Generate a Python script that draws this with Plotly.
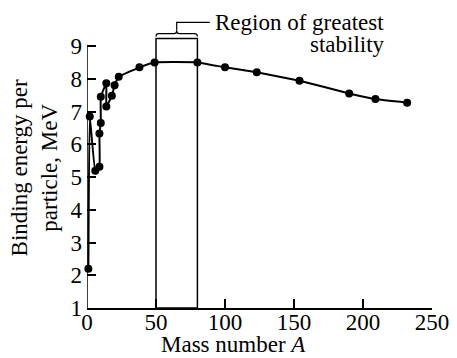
import plotly.graph_objects as go

# Data
mass_number = [1, 2, 6, 9, 9, 10, 10, 14, 14, 18, 20, 23, 38, 49, 80, 100, 123, 154, 190, 209, 232]
binding_energy = [2.2, 6.85, 5.19, 5.31, 6.33, 6.65, 7.45, 7.86, 7.15, 7.48, 7.8, 8.06, 8.35, 8.5, 8.5, 8.35, 8.2, 7.94, 7.55, 7.38, 7.27]

x_ticks = [0, 50, 100, 150, 200, 250]
y_ticks = [1, 2, 3, 4, 5, 6, 7, 8, 9]

region_start = 50
region_end = 80
region_top = 9.23

FONT = "Liberation Serif"
FS = 23

fig = go.Figure()
fig.add_trace(go.Scatter(
    x=mass_number, y=binding_energy, mode="lines+markers",
    line=dict(color="black", width=2, shape="spline", smoothing=0.3),
    marker=dict(color="black", size=8),
    cliponaxis=False, showlegend=False, hoverinfo="skip",
))

shapes = []
# region box
shapes.append(dict(type="rect", xref="x", yref="y", x0=region_start, x1=region_end,
                   y0=1, y1=region_top, line=dict(color="black", width=1.5)))
# y axis line (only up to 9)
shapes.append(dict(type="line", xref="x", yref="y", x0=0, x1=0, y0=1, y1=9,
                   line=dict(color="black", width=1.5)))
# curly brace
mid = (region_start + region_end) / 2
b0, b1, bp = 9.29, 9.38, 9.47
brace = (f"M {region_start},{b0} Q {region_start},{b1} {region_start+2},{b1} "
         f"L {mid-2},{b1} Q {mid},{b1} {mid},{bp} Q {mid},{b1} {mid+2},{b1} "
         f"L {region_end-2},{b1} Q {region_end},{b1} {region_end},{b0}")
shapes.append(dict(type="path", xref="x", yref="y", path=brace,
                   line=dict(color="black", width=1.2)))
# leader line
shapes.append(dict(type="path", xref="x", yref="y",
                   path=f"M {mid},{bp} L {mid},9.72 L 89,9.72",
                   line=dict(color="black", width=1.2)))

annotations = [
    dict(text="Region of greatest", x=91, y=9.73, xref="x", yref="y",
         xanchor="left", yanchor="middle", showarrow=False,
         font=dict(family=FONT, size=FS, color="black")),
    dict(text="stability", x=217.5, y=9.05, xref="x", yref="y",
         xanchor="right", yanchor="middle", showarrow=False,
         font=dict(family=FONT, size=FS, color="black")),
    dict(text="Mass number <i>A</i>", x=106.5, y=-0.122, xref="x", yref="paper",
         xanchor="center", yanchor="middle", showarrow=False,
         font=dict(family=FONT, size=FS, color="black")),
    dict(text="Binding energy per<br>particle, MeV", x=-0.151, y=5.29, xref="paper", yref="y",
         xanchor="center", yanchor="middle", showarrow=False, textangle=-90,
         font=dict(family=FONT, size=FS, color="black")),
]

fig.update_layout(
    width=457, height=358,
    margin=dict(l=87, r=25, t=10, b=50, autoexpand=False),
    paper_bgcolor="white", plot_bgcolor="white",
    font=dict(family=FONT, size=FS, color="black"),
    shapes=shapes, annotations=annotations,
    hovermode=False,
    xaxis=dict(range=[0, 250], tickvals=x_ticks, ticks="inside", ticklen=9, tickwidth=1.5,
               tickcolor="black", showline=True, linecolor="black", linewidth=1.5,
               showgrid=False, zeroline=False, fixedrange=True, ticklabelstandoff=-7,
               automargin=False),
    yaxis=dict(range=[1, 10.1], tickvals=y_ticks, ticks="inside", ticklen=9, tickwidth=1.5,
               tickcolor="black", showline=False,
               showgrid=False, zeroline=False, fixedrange=True, ticklabelstandoff=4,
               automargin=False),
)

fig.write_html("out.html", config={"displayModeBar": False},
               post_script="document.body.style.margin='0';")
